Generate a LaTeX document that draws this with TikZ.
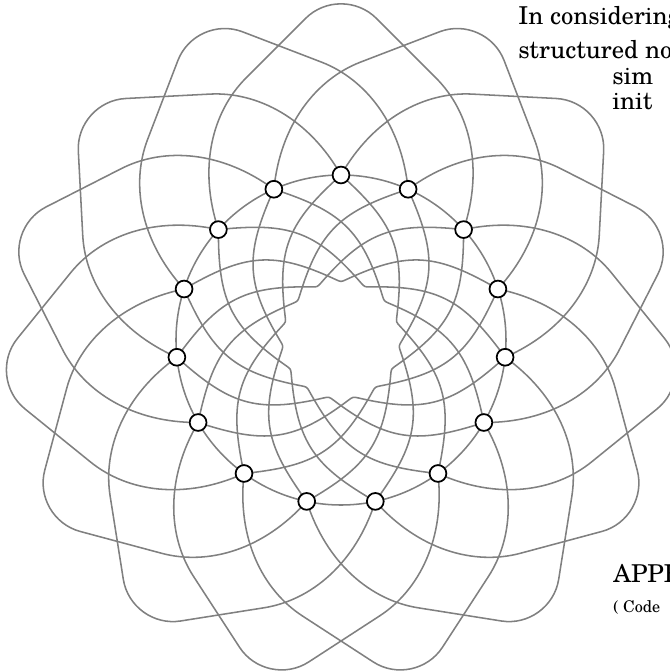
\documentclass[tikz,border=0pt]{standalone}
\usepackage{fontspec}
\setmainfont{TeX Gyre Schola}
\usepackage{tikz}
\usetikzlibrary{positioning}

\begin{document}
\begin{tikzpicture}[
        x=0.025cm, y=0.025cm,
        petal/.style={draw=black!50, line width=1.1pt},
        knot/.style={circle, draw=black, fill=white, line width=1.25pt,
                     inner sep=0pt, minimum size=0.42cm},
        lbl/.style={font=\fontsize{17.5}{21}\selectfont, anchor=base west, inner sep=0pt},
        small/.style={font=\fontsize{11.5}{14}\selectfont, anchor=base west, inner sep=0pt}
    ]
    \useasboundingbox (-341,-331) rectangle (329,340);
    % Points on the ring
    \foreach \i in {0,...,14}
        \coordinate (p\i) at (90+24*\i:165);
    % Outer lobes and inner strands
    \foreach \i in {0,...,14} {
        \pgfmathsetmacro{\t}{90+24*\i}
        \pgfmathtruncatemacro{\lo}{mod(\i+13,15)}
        \pgfmathtruncatemacro{\hi}{mod(\i+2,15)}
        \pgfmathtruncatemacro{\ilo}{mod(\i+12,15)}
        \pgfmathtruncatemacro{\ihi}{mod(\i+3,15)}
        \begin{scope}[rotate=\t]
            % lobe with a rounded corner
            \draw[petal] (p\lo) .. controls (172,-143) and (228,-129) .. (262,-95)
                -- (321.6,-35.4) .. controls (341,-16) and (341,16) .. (321.6,35.4)
                -- (262,95) .. controls (228,129) and (172,143) .. (p\hi);
            % strand through the inner tip
            \draw[petal] (p\ilo) .. controls +(60:70) and +(-65:69) .. (60.5,-5.4)
                .. controls (58,0) and (58,0) .. (60.5,5.4)
                .. controls +(65:69) and +(-60:70) .. (p\ihi);
        \end{scope}
    }
    % Ring through the nodes
    \draw[petal] (0,0) circle (165);
    \foreach \i in {0,...,14}
        \node[knot] (k\i) at (p\i) {};
    % Text
    \node[lbl] (t1) at (177,315) {In considering};
    \node[lbl] (t2) at (177,281) {structured no};
    \node[lbl] (t3) at (271,255) {sim};
    \node[lbl] (t4) at (271,230) {init};
    \node[lbl] (t5) at (272,-242) {APPE};
    \node[small] (t6) at (272,-272) {( Code};
\end{tikzpicture}
\end{document}
